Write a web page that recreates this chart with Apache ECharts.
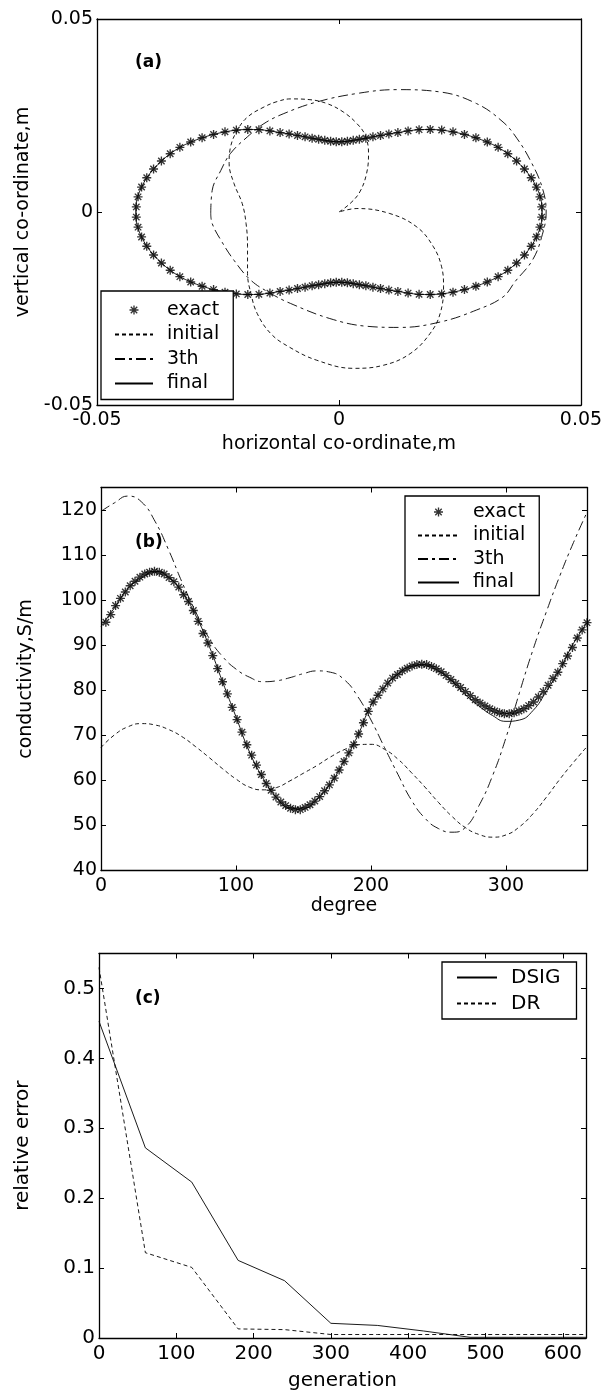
<!DOCTYPE html>
<html><head><meta charset="utf-8">
<script src="https://cdn.jsdelivr.net/npm/echarts@6/dist/echarts.min.js"></script>
<style>html,body{margin:0;padding:0;background:#fff}#c{width:608px;height:1394px}</style>
</head><body><div id="c"></div><script>
// ---------- panel (a): shape ----------
const shapeStartDeg = 1.8, shapeStepDeg = 3.6, shapeCount = 100;
// radius (m) of the exact boundary, one quadrant, at 1.8, 5.4, ... 88.2 deg
const exactRadiusQuarter = [0.0419,0.0417,0.0413,0.0407,0.0399,0.0390,0.0380,0.0369,0.0356,0.0342,0.0328,0.0314,0.0300,0.0285,0.0270,0.0254,0.0239,0.0227,0.0216,0.0207,0.0199,0.0193,0.0188,0.0184,0.0182];
const finalRadiusQuarter = [0.0420,0.0418,0.0413,0.0407,0.0399,0.0390,0.0380,0.0369,0.0356,0.0342,0.0328,0.0314,0.0300,0.0285,0.0270,0.0254,0.0239,0.0227,0.0216,0.0207,0.0199,0.0193,0.0188,0.0184,0.0182];
const initialX = [0,0.0023,0.0043,0.0057,0.0061,0.0054,0.0037,0.0009,-0.0025,-0.0060,-0.0100,-0.0128,-0.0155,-0.0189,-0.0210,-0.0224,-0.0227,-0.0217,-0.0200,-0.0192,-0.0189,-0.0189,-0.0182,-0.0169,-0.0141,-0.0104,-0.0046,0.0030,0.0092,0.0147,0.0188,0.0209,0.0216,0.0212,0.0195,0.0161,0.0105,0.0037,0];
const initialY = [0,0.0022,0.0052,0.0100,0.0152,0.0199,0.0229,0.0259,0.0281,0.0291,0.0293,0.0286,0.0272,0.0246,0.0212,0.0169,0.0126,0.0074,0.0022,-0.0030,-0.0090,-0.0159,-0.0211,-0.0263,-0.0315,-0.0349,-0.0384,-0.0405,-0.0397,-0.0367,-0.0315,-0.0263,-0.0194,-0.0142,-0.0090,-0.0039,-0.0004,0.0009,0];
const thirdX = [-0.0265,-0.0262,-0.0244,-0.0224,-0.0189,-0.0155,-0.0114,-0.0046,0.0037,0.0119,0.0209,0.0284,0.0339,0.0368,0.0396,0.0420,0.0428,0.0420,0.0400,0.0364,0.0339,0.0284,0.0209,0.0126,0.0057,-0.0019,-0.0100,-0.0141,-0.0182,-0.0217,-0.0244,-0.0262,-0.0265];
const thirdY = [-0.0004,0.0056,0.0108,0.0152,0.0195,0.0229,0.0255,0.0285,0.0307,0.0317,0.0311,0.0281,0.0233,0.0190,0.0132,0.0063,0,-0.0059,-0.0124,-0.0180,-0.0220,-0.0254,-0.0285,-0.0299,-0.0296,-0.0276,-0.0237,-0.0211,-0.0177,-0.0125,-0.0073,-0.0030,-0.0004];

// ---------- panel (b): conductivity ----------
const exactStepDeg = 3.6; // markers at 3.6, 7.2, ... 360
const exactB = [95.1,96.8,98.8,100.4,101.8,103.2,104.2,105.1,105.8,106.2,
  106.4,106.2,105.8,105.0,104.1,102.9,101.2,99.7,97.7,95.3,
  92.6,90.5,87.7,84.8,81.9,79.2,76.2,73.5,70.7,67.9,
  65.6,63.4,61.3,59.3,57.8,56.3,55.2,54.4,53.8,53.5,
  53.5,54.0,54.6,55.4,56.4,57.7,59.0,60.5,62.3,64.2,
  66.1,67.9,70.3,72.8,75.3,77.4,78.9,80.3,81.6,82.7,
  83.5,84.3,84.9,85.4,85.7,85.8,85.7,85.3,84.8,84.1,
  83.3,82.4,81.5,80.6,79.7,78.8,77.9,77.2,76.5,75.9,
  75.4,75.0,74.8,74.8,75.0,75.4,75.9,76.6,77.4,78.5,
  79.7,81.1,82.6,84.0,85.9,87.6,89.5,91.6,93.4,95.0];
const lineDeg = [0,10,20,30,40,50,60,70,80,90,100,110,120,130,140,150,160,170,180,190,200,210,220,230,240,250,260,270,280,290,300,310,320,330,340,350,360];
const initialB = [67.3,70.1,71.9,72.6,72.3,71.3,69.7,67.5,65.1,62.6,60.3,58.5,57.9,58.4,59.9,61.6,63.3,65.2,66.8,67.9,68.0,66.9,64.7,61.7,58.5,55.1,52.0,49.5,48.0,47.4,47.9,49.7,52.6,56.3,60.3,64.0,67.5];
const thirdB = [119.7,121.6,123.1,121.8,117.5,111.2,104.0,97.5,91.6,87.5,84.7,82.9,81.9,82.1,82.8,83.7,84.3,84.0,82.4,78.7,73.4,67.3,61.3,55.6,51.6,49.3,48.5,49.6,54.4,61.0,69.5,79.5,89.0,97.5,105.5,112.8,119.5];
const finalB = [94.2,98.3,102.6,104.9,106.4,105.1,101.8,96.7,89.9,81.9,74.1,66.3,60.5,56.2,53.9,53.8,55.8,59.3,64.2,69.8,76.6,80.7,83.6,85.3,85.6,84.3,82.0,79.0,76.5,74.4,73.1,73.4,75.5,79.8,84.7,90.4,95.0];

// ---------- panel (c): relative error ----------
const generations = [0,60,120,180,240,300,360,420,480,540,600,630];
const dsigErr = [0.453,0.272,0.223,0.111,0.082,0.021,0.018,0.010,0.001,0.001,0.001,0.001];
const drErr = [0.530,0.122,0.101,0.013,0.012,0.005,0.005,0.005,0.005,0.005,0.005,0.005];

// ---------- build ----------
const FONT = 'DejaVu Sans';
const STAR = 'path://M-5,-0.75L5,-0.75L5,0.75L-5,0.75Z M-0.75,-5L0.75,-5L0.75,5L-0.75,5Z M-4.1,-3.05L-3.05,-4.1L4.1,3.05L3.05,4.1Z M3.05,-4.1L4.1,-3.05L-3.05,4.1L-4.1,3.05Z';
const DASH_INIT = [4, 3];
const DASH_THIRD = [10, 4, 3, 4];

function radiusAt(quarter, deg) {
  let t = deg % 180; if (t > 90) t = 180 - t;
  return quarter[Math.round((t - shapeStartDeg) / shapeStepDeg)];
}
function shapePoints(quarter, close) {
  const pts = [];
  for (let k = 0; k < shapeCount; k++) {
    const d = shapeStartDeg + k * shapeStepDeg, r = radiusAt(quarter, d), a = d * Math.PI / 180;
    pts.push([r * Math.cos(a), r * Math.sin(a)]);
  }
  if (close) pts.push(pts[0].slice());
  return pts;
}
const zip = (xs, ys) => xs.map((x, i) => [x, ys[i]]);
const exactA = shapePoints(exactRadiusQuarter, false);
const finalA = shapePoints(finalRadiusQuarter, true);
const initialA = zip(initialX, initialY);
const thirdA = zip(thirdX, thirdY);
const exactBpts = exactB.map((v, i) => [(i + 1) * exactStepDeg, v]);

const txt = (fs) => ({ color: '#000', fontFamily: FONT, fontSize: fs });
const AXW = 1.3;
function xPair(gi, min, max, interval, fmt, name, gap, fs, hideMax) {
  const lab = Object.assign(txt(fs), { margin: 6, formatter: fmt });
  if (hideMax) lab.showMaxLabel = false;
  return [
    { type: 'value', gridIndex: gi, position: 'bottom', min, max, interval,
      axisLine: { onZero: false, lineStyle: { color: '#000', width: AXW } },
      axisTick: { inside: true, length: 5, lineStyle: { color: '#000' } },
      axisLabel: lab, splitLine: { show: false },
      name, nameLocation: 'middle', nameGap: gap, nameTextStyle: txt(fs) },
    { type: 'value', gridIndex: gi, position: 'top', min, max, interval,
      axisLine: { onZero: false, lineStyle: { color: '#000', width: AXW } },
      axisTick: { inside: true, length: 5, lineStyle: { color: '#000' } },
      axisLabel: { show: false }, splitLine: { show: false } }
  ];
}
function yPair(gi, min, max, interval, fmt, name, gap, fs, hideMax) {
  const lab = Object.assign(txt(fs), { margin: 4, formatter: fmt });
  if (hideMax) lab.showMaxLabel = false;
  return [
    { type: 'value', gridIndex: gi, position: 'left', min, max, interval,
      axisLine: { onZero: false, lineStyle: { color: '#000', width: AXW } },
      axisTick: { inside: true, length: 5, lineStyle: { color: '#000' } },
      axisLabel: lab, splitLine: { show: false },
      name, nameLocation: 'middle', nameGap: gap, nameTextStyle: txt(fs) },
    { type: 'value', gridIndex: gi, position: 'right', min, max, interval,
      axisLine: { onZero: false, lineStyle: { color: '#000', width: AXW } },
      axisTick: { inside: true, length: 5, lineStyle: { color: '#000' } },
      axisLabel: { show: false }, splitLine: { show: false } }
  ];
}
const fmtA = v => (Math.abs(v) < 1e-9 ? '0' : String(+v.toFixed(2)));
const fmtInt = v => String(Math.round(v));
const fmtC = v => (Math.abs(v) < 1e-9 ? '0' : String(+v.toFixed(1)));

const lineS = (name, xi, data, dash, smooth) => ({
  type: 'line', name, xAxisIndex: xi, yAxisIndex: xi, data, smooth: smooth,
  symbol: 'none', showSymbol: false, silent: true, animation: false,
  lineStyle: { color: '#000', width: 0.9, type: dash || 'solid' }, itemStyle: { color: '#000' }, z: 2
});
const starS = (name, xi, data) => ({
  type: 'scatter', name, xAxisIndex: xi, yAxisIndex: xi, data, symbol: STAR, symbolSize: 9,
  itemStyle: { color: '#000' }, silent: true, animation: false, z: 3
});
const noDot = (name) => ({ name, itemStyle: { opacity: 0 } });
const legendBase = (fs, lh) => ({
  orient: 'vertical', selectedMode: false, borderColor: '#000', borderWidth: 1.3, backgroundColor: '#fff',
  itemHeight: 9, textStyle: { color: '#000', fontFamily: FONT, fontSize: fs, lineHeight: lh, padding: [0, 0, 0, 9] }
});
const legendItemsAB = [{ name: 'exact' }, noDot('initial'), noDot('3th'), noDot('final')];

const option = {
  animation: false,
  backgroundColor: '#fff',
  grid: [
    { left: 97, top: 19, width: 484, height: 386 },
    { left: 101, top: 487.5, width: 486, height: 383 },
    { left: 99, top: 953.5, width: 487, height: 384.5 }
  ],
  xAxis: [].concat(
    xPair(0, -0.05, 0.05, 0.05, fmtA, 'horizontal co-ordinate,m', 30, 19, false),
    xPair(1, 0, 360, 100, fmtInt, 'degree', 25, 19, true),
    xPair(2, 0, 630, 100, fmtInt, 'generation', 33, 20, true)
  ),
  yAxis: [].concat(
    yPair(0, -0.05, 0.05, 0.05, fmtA, 'vertical co-ordinate,m', 61, 19, false),
    yPair(1, 40, 125, 10, fmtInt, 'conductivity,S/m', 65, 19, true),
    yPair(2, 0, 0.55, 0.1, fmtC, 'relative error', 66, 20, true)
  ),
  legend: [
    Object.assign(legendBase(19, 20), { data: legendItemsAB, left: 101, top: 291, itemWidth: 38, itemGap: 4.5, padding: [9, 14, 6, 13] }),
    Object.assign(legendBase(19, 20), { data: legendItemsAB, left: 405, top: 496, itemWidth: 41, itemGap: 3.5, padding: [6, 14, 3, 12] }),
    Object.assign(legendBase(20, 21), { data: [noDot('DSIG'), noDot('DR')], left: 442, top: 962, itemWidth: 40, itemGap: 5, padding: [5, 16, 5, 14] })
  ],
  graphic: [
    { type: 'text', x: 135, y: 63, style: { text: '(a)', font: 'bold 17px "DejaVu Sans"', fill: '#000', verticalAlign: 'middle' } },
    { type: 'text', x: 135, y: 543, style: { text: '(b)', font: 'bold 17px "DejaVu Sans"', fill: '#000', verticalAlign: 'middle' } },
    { type: 'text', x: 135, y: 999, style: { text: '(c)', font: 'bold 17px "DejaVu Sans"', fill: '#000', verticalAlign: 'middle' } }
  ],
  series: [
    lineS('final', 0, finalA, 'solid', 0.3),
    lineS('initial', 0, initialA, DASH_INIT, 0.4),
    lineS('3th', 0, thirdA, DASH_THIRD, 0.4),
    starS('exact', 0, exactA),
    lineS('final', 2, zip(lineDeg, finalB), 'solid', 0.5),
    lineS('initial', 2, zip(lineDeg, initialB), DASH_INIT, 0.5),
    lineS('3th', 2, zip(lineDeg, thirdB), DASH_THIRD, 0.5),
    starS('exact', 2, exactBpts),
    lineS('DSIG', 4, zip(generations, dsigErr), 'solid', false),
    lineS('DR', 4, zip(generations, drErr), DASH_INIT, false)
  ]
};
const chart = echarts.init(document.getElementById('c'), null, { renderer: 'canvas', width: 608, height: 1394 });
chart.setOption(option);
</script></body></html>
